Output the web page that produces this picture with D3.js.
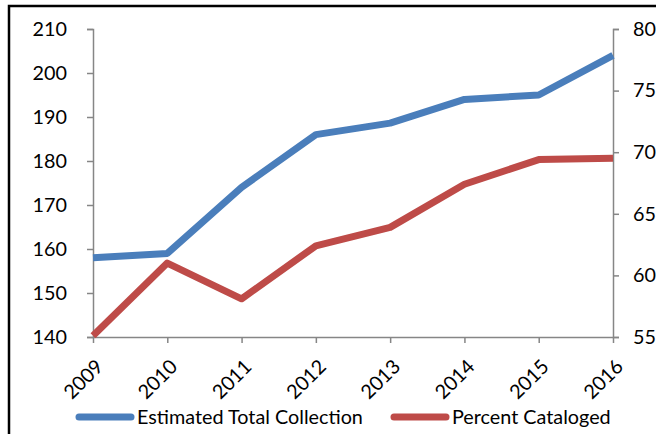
<!DOCTYPE html>
<html><head><meta charset="utf-8">
<script src="https://cdn.jsdelivr.net/npm/d3@7"></script>
<style>body{margin:0;background:#fff}svg{display:block}text{font-family:Lato,"Open Sans",sans-serif;fill:#000}</style>
</head><body><svg id="c" width="656" height="434"></svg>
<script>
const years = ["2009","2010","2011","2012","2013","2014","2015","2016"];
const totalCollection = [158, 159, 174, 186, 188.6, 194, 195, 204];
const percentCataloged = [55.1, 61, 58.1, 62.4, 63.9, 67.4, 69.4, 69.5];
const leftTicks = [140,150,160,170,180,190,200,210];
const rightTicks = [55,60,65,70,75,80];
const seriesNames = ["Estimated Total Collection","Percent Cataloged"];
const colors = ["#4A7EBB","#BE4B48"];
const FS = 19.8;

const svg = d3.select("#c");
svg.append("rect").attr("x",9).attr("y",6).attr("width",700).attr("height",500)
  .attr("fill","none").attr("stroke","#000").attr("stroke-width",2.5);

const x = d3.scalePoint().domain(years).range([93,613]);
const yL = d3.scaleLinear().domain([140,210]).range([337,29]);
const yR = d3.scaleLinear().domain([55,80]).range([337,29]);
const axisColor = "#868686";

function style(g){
  g.selectAll("path").attr("stroke",axisColor).attr("stroke-width",1.5);
  g.selectAll("line").attr("stroke",axisColor).attr("stroke-width",1.5);
  g.selectAll("text").attr("font-size",FS).style("font-family","Lato, 'Open Sans', sans-serif");
}
const gL = svg.append("g").attr("transform","translate(93,0)")
  .call(d3.axisLeft(yL).tickValues(leftTicks).tickSize(6).tickSizeOuter(6).tickPadding(20));
style(gL);
const gR = svg.append("g").attr("transform","translate(613,0)")
  .call(d3.axisRight(yR).tickValues(rightTicks).tickSize(6).tickSizeOuter(6).tickPadding(14));
style(gR);
const gX = svg.append("g").attr("transform","translate(0,337)")
  .call(d3.axisBottom(x).tickSize(6).tickSizeOuter(0));
style(gX);
gX.selectAll("text").attr("text-anchor","end").attr("x",0).attr("y",0).attr("dy","0.35em")
  .attr("transform","translate(6,26) rotate(-45)");

const line = (sc) => d3.line().x((d,i)=>x(years[i])).y(d=>sc(d));
svg.append("path").datum(totalCollection).attr("d",line(yL)).attr("fill","none")
  .attr("stroke",colors[0]).attr("stroke-width",7).attr("stroke-linejoin","round");
svg.append("path").datum(percentCataloged).attr("d",line(yR)).attr("fill","none")
  .attr("stroke",colors[1]).attr("stroke-width",7).attr("stroke-linejoin","round");

const legX = [76, 391];
seriesNames.forEach((n,i)=>{
  svg.append("line").attr("x1",legX[i]+3).attr("x2",legX[i]+55).attr("y1",417).attr("y2",417)
    .attr("stroke",colors[i]).attr("stroke-width",7).attr("stroke-linecap","round");
  svg.append("text").attr("x",legX[i]+61).attr("y",417).attr("dy","0.35em")
    .attr("font-size",FS).text(n);
});
</script></body></html>
